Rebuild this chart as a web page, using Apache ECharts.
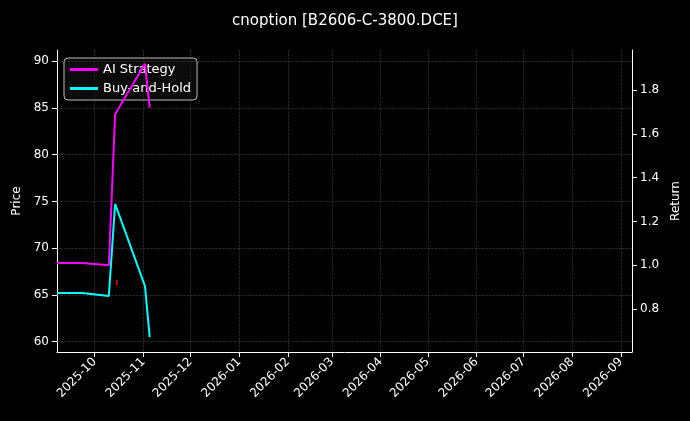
<!DOCTYPE html><html><head><meta charset="utf-8">
<script src="https://cdn.jsdelivr.net/npm/echarts@6/dist/echarts.min.js"></script>
<style>html,body{margin:0;background:#000}#c{width:690px;height:421px}</style></head><body><div id="c"></div>
<script>
const dates = ['2025-09-07','2025-09-23','2025-10-10','2025-10-14','2025-11-02','2025-11-05'];
const aiStrategy = [1.01, 1.01, 1.0, 1.69, 1.92, 1.72];
const buyHold = [0.873, 0.873, 0.86, 1.28, 0.905, 0.672];
const priceDates = ['2025-10-15','2025-10-15'];
const priceVals = [66.0, 66.6];
const priceTicks = [60, 65, 70, 75, 80, 85, 90];
const returnTicks = [0.8, 1.0, 1.2, 1.4, 1.6, 1.8];
const pair = (d, v) => d.map((x, i) => [x, v[i]]);
const ax = {color:'#fff', fontSize:12, fontFamily:'DejaVu Sans'};
const chart = echarts.init(document.getElementById('c'));
chart.setOption({
  backgroundColor:'#000', animation:false,
  title:{text:'cnoption [B2606-C-3800.DCE]', left:'center', top:9, textStyle:{color:'#fff', fontSize:15, fontWeight:'normal', fontFamily:'DejaVu Sans'}},
  grid:{left:57, right:58, top:50, bottom:69},
  legend:{left:64, top:58, orient:'vertical', itemGap:6, itemWidth:28, itemHeight:3,
    backgroundColor:'rgba(20,20,20,0.55)', borderColor:'#bbb', borderWidth:1, borderRadius:4, padding:[5,6],
    textStyle:{color:'#fff', fontSize:13, fontFamily:'DejaVu Sans'},
    data:[{name:'AI Strategy', icon:'rect'},{name:'Buy-and-Hold', icon:'rect'}]},
  xAxis:{type:'time', min:'2025-09-07', max:'2026-09-08', minInterval:28*864e5, maxInterval:31*864e5,
    axisLine:{lineStyle:{color:'#fff'}}, axisTick:{lineStyle:{color:'#fff'}},
    axisLabel:Object.assign({rotate:45, formatter:'{yyyy}-{MM}', hideOverlap:false, showMinLabel:false, showMaxLabel:false}, ax),
    splitLine:{show:true, lineStyle:{color:'#444', type:'dashed', width:0.6}}},
  yAxis:[
    {type:'value', name:'Price', nameLocation:'middle', nameGap:33, nameTextStyle:ax, min:58.9, max:91.2,
      axisLabel:Object.assign({customValues:priceTicks}, ax), axisTick:{show:true, customValues:priceTicks},
      axisLine:{show:true, lineStyle:{color:'#fff'}},
      splitLine:{show:false}},
    {type:'value', name:'Return', nameLocation:'middle', nameGap:38, nameTextStyle:ax, min:0.604, max:1.983,
      axisLabel:Object.assign({customValues:returnTicks, formatter:v=>v.toFixed(1)}, ax), axisTick:{show:true, customValues:returnTicks},
      axisLine:{show:true, lineStyle:{color:'#fff'}}, splitLine:{show:false}}
  ],
  series:[
    {name:'Price', type:'line', yAxisIndex:0, data:pair(priceDates, priceVals), symbol:'none', lineStyle:{color:'#e00', width:1.5}, silent:true,
      markLine:{silent:true, symbol:'none', label:{show:false}, lineStyle:{color:'#444', type:'dashed', width:0.6}, data:priceTicks.map(v=>({yAxis:v}))}},
    {name:'AI Strategy', type:'line', yAxisIndex:1, z:5, data:pair(dates, aiStrategy), symbol:'none', itemStyle:{color:'#ff00ff'}, lineStyle:{color:'#ff00ff', width:2}},
    {name:'Buy-and-Hold', type:'line', yAxisIndex:1, z:5, data:pair(dates, buyHold), symbol:'none', itemStyle:{color:'#00ffff'}, lineStyle:{color:'#00ffff', width:2}}
  ]
});
</script></body></html>
